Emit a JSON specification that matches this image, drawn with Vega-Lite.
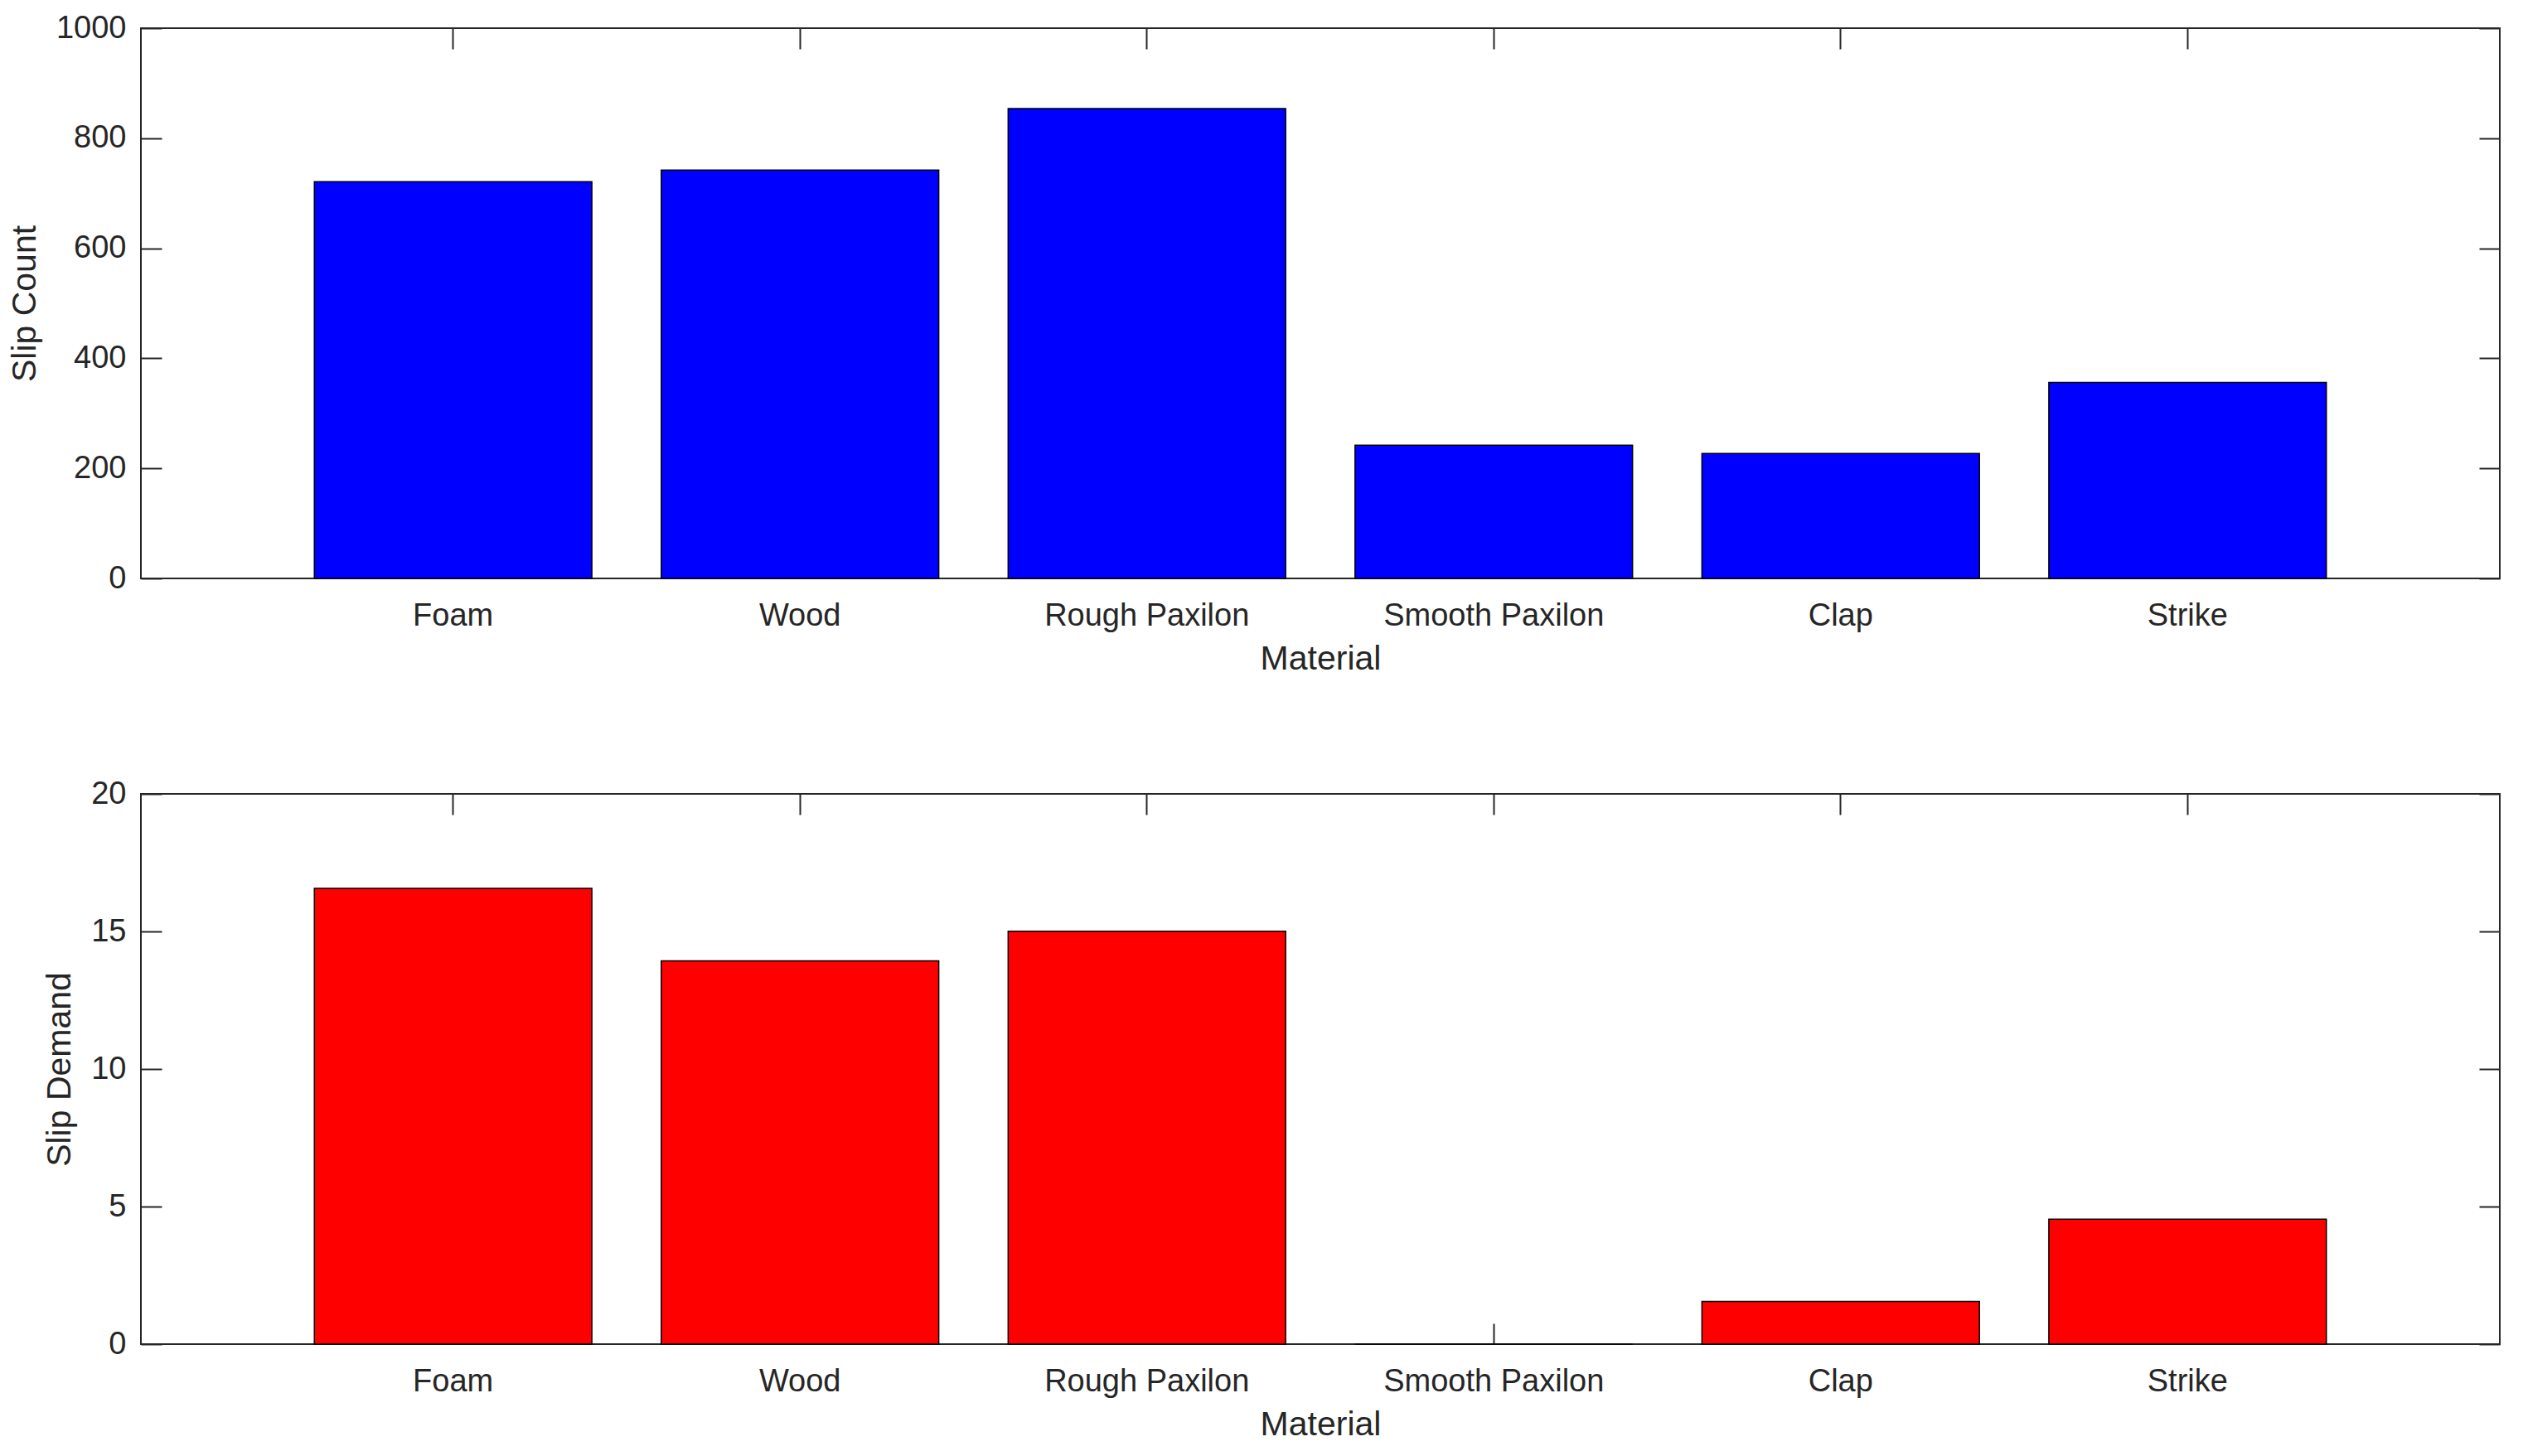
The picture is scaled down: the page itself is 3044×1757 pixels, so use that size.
{
  "$schema": "https://vega.github.io/schema/vega-lite/v6.json",
  "background": "white",
  "padding": {"left": 8, "top": 14, "right": 14, "bottom": 10},
  "config": {
    "font": "Liberation Sans",
    "view": {"stroke": "#262626", "strokeWidth": 2},
    "axis": {
      "domain": false,
      "grid": false,
      "tickColor": "#262626",
      "tickWidth": 2,
      "labelColor": "#262626",
      "titleColor": "#262626",
      "labelFont": "Liberation Sans",
      "titleFont": "Liberation Sans",
      "labelFontSize": 38,
      "titleFontSize": 41,
      "titleFontWeight": "normal",
      "zindex": 1
    },
    "concat": {"spacing": 122}
  },
  "datasets": {
    "count": [
      {"Material": "Foam", "value": 721},
      {"Material": "Wood", "value": 742},
      {"Material": "Rough Paxilon", "value": 854},
      {"Material": "Smooth Paxilon", "value": 242},
      {"Material": "Clap", "value": 227},
      {"Material": "Strike", "value": 356}
    ],
    "demand": [
      {"Material": "Foam", "value": 16.57},
      {"Material": "Wood", "value": 13.93},
      {"Material": "Rough Paxilon", "value": 15.01},
      {"Material": "Smooth Paxilon", "value": 0},
      {"Material": "Clap", "value": 1.55},
      {"Material": "Strike", "value": 4.54}
    ]
  },
  "vconcat": [
    {
      "width": 2846,
      "height": 664,
      "data": {"name": "count"},
      "resolve": {"axis": {"x": "independent", "y": "independent"}},
      "layer": [
        {
          "mark": {"type": "bar", "color": "#0000FF", "stroke": "#000000", "strokeWidth": 1.5},
          "encoding": {
            "x": {
              "field": "Material", "type": "nominal", "sort": null,
              "scale": {"paddingInner": 0.2, "paddingOuter": 0.5},
              "axis": {"orient": "bottom", "labelAngle": 0, "tickSize": -25, "labelPadding": 51, "titlePadding": 13, "title": "Material", "labelLimit": 0}
            },
            "y": {
              "field": "value", "type": "quantitative",
              "scale": {"domain": [0, 1000], "nice": false},
              "axis": {"orient": "left", "values": [0, 200, 400, 600, 800, 1000], "format": "d", "tickSize": -25, "labelPadding": 43, "titlePadding": 16, "title": "Slip Count"}
            }
          }
        },
        {
          "mark": {"type": "bar", "opacity": 0},
          "encoding": {
            "x": {
              "field": "Material", "type": "nominal", "sort": null,
              "axis": {"orient": "top", "labels": false, "tickSize": -25, "title": null}
            },
            "y": {
              "field": "value", "type": "quantitative",
              "axis": {"orient": "right", "labels": false, "values": [0, 200, 400, 600, 800, 1000], "tickSize": -25, "title": null}
            }
          }
        }
      ]
    },
    {
      "width": 2846,
      "height": 664,
      "data": {"name": "demand"},
      "resolve": {"axis": {"x": "independent", "y": "independent"}},
      "layer": [
        {
          "mark": {"type": "bar", "color": "#FF0000", "stroke": "#000000", "strokeWidth": 1.5},
          "encoding": {
            "x": {
              "field": "Material", "type": "nominal", "sort": null,
              "scale": {"paddingInner": 0.2, "paddingOuter": 0.5},
              "axis": {"orient": "bottom", "labelAngle": 0, "tickSize": -25, "labelPadding": 51, "titlePadding": 13, "title": "Material", "labelLimit": 0}
            },
            "y": {
              "field": "value", "type": "quantitative",
              "scale": {"domain": [0, 20], "nice": false},
              "axis": {"orient": "left", "values": [0, 5, 10, 15, 20], "format": "d", "tickSize": -25, "labelPadding": 43, "titlePadding": 16, "title": "Slip Demand"}
            }
          }
        },
        {
          "mark": {"type": "bar", "opacity": 0},
          "encoding": {
            "x": {
              "field": "Material", "type": "nominal", "sort": null,
              "axis": {"orient": "top", "labels": false, "tickSize": -25, "title": null}
            },
            "y": {
              "field": "value", "type": "quantitative",
              "axis": {"orient": "right", "labels": false, "values": [0, 5, 10, 15, 20], "tickSize": -25, "title": null}
            }
          }
        }
      ]
    }
  ]
}
